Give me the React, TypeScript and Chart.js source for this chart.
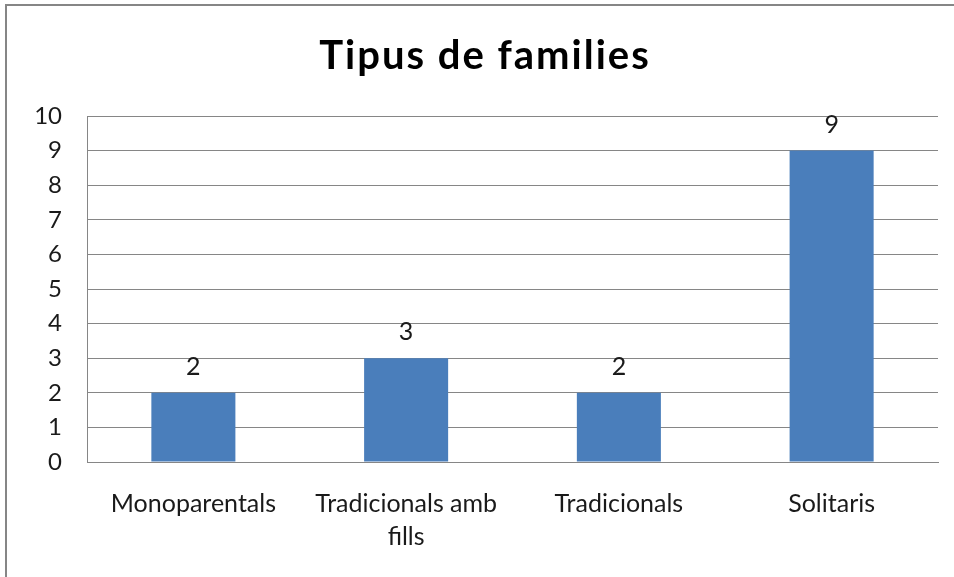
import React, { useEffect, useRef } from "react";
import { Chart, registerables } from "chart.js";

Chart.register(...registerables);

const categories: (string | string[])[] = ["Monoparentals", ["Tradicionals amb", "fills"], "Tradicionals", "Solitaris"];
const values: number[] = [2, 3, 2, 9];
const chartTitle = "Tipus de families";
const yMin = 0;
const yMax = 10;

const FONT = "Lato, 'Open Sans', sans-serif";

const valueLabels = {
  id: "valueLabels",
  afterDatasetsDraw(chart: any) {
    const ctx = chart.ctx;
    const meta = chart.getDatasetMeta(0);
    ctx.save();
    ctx.font = `25px ${FONT}`;
    ctx.fillStyle = "#1a1a1a";
    ctx.textAlign = "center";
    ctx.textBaseline = "middle";
    meta.data.forEach((bar: any, i: number) => {
      ctx.fillText(String(values[i]), bar.x, bar.y - 26);
    });
    ctx.restore();
  },
};

const titlePlugin = {
  id: "customTitle",
  afterDraw(chart: any) {
    const ctx = chart.ctx;
    ctx.save();
    ctx.font = `bold 40px ${FONT}`;
    (ctx as any).letterSpacing = "2px";
    ctx.fillStyle = "#000";
    ctx.textAlign = "center";
    ctx.textBaseline = "alphabetic";
    ctx.fillText(chartTitle, 485, 69);
    ctx.restore();
  },
};

export default function App() {
  const ref = useRef<HTMLCanvasElement>(null);
  useEffect(() => {
    document.body.style.margin = "0";
    const chart = new Chart(ref.current!, {
      type: "bar",
      data: {
        labels: categories,
        datasets: [
          {
            data: values,
            backgroundColor: "#4a7ebb",
            categoryPercentage: 1,
            barPercentage: 0.395,
          },
        ],
      },
      options: {
        responsive: false,
        animation: false,
        layout: { padding: { left: 0, right: 16, top: 116, bottom: 0 } },
        plugins: {
          legend: { display: false },
          tooltip: { enabled: false },
          title: { display: false },
        },
        scales: {
          x: {
            grid: { display: false, drawTicks: false },
            border: { display: true, color: "#868686", width: 1 },
            ticks: {
              color: "#1a1a1a",
              font: { family: FONT, size: 25, lineHeight: 1.3 },
              padding: 26,
              maxRotation: 0,
              autoSkip: false,
            },
            afterFit: (s: any) => {
              s.height = 115;
            },
          },
          y: {
            min: yMin,
            max: yMax,
            grid: { color: "#868686", drawTicks: false, lineWidth: 1 },
            border: { display: true, color: "#868686", width: 1 },
            ticks: {
              stepSize: 1,
              color: "#1a1a1a",
              font: { family: FONT, size: 24 },
              padding: 25,
            },
            afterFit: (s: any) => {
              s.width = 87;
            },
          },
        },
      },
      plugins: [valueLabels, titlePlugin],
    });
    return () => chart.destroy();
  }, []);
  return (
    <div style={{ position: "relative", width: 954, height: 577, overflow: "hidden", background: "#fff" }}>
      <div
        style={{
          position: "absolute",
          left: 5,
          top: 4,
          width: 1200,
          height: 800,
          border: "2px solid #868686",
          boxSizing: "border-box",
        }}
      />
      <canvas ref={ref} width={954} height={577} style={{ position: "absolute", left: 0, top: 0 }} />
    </div>
  );
}
